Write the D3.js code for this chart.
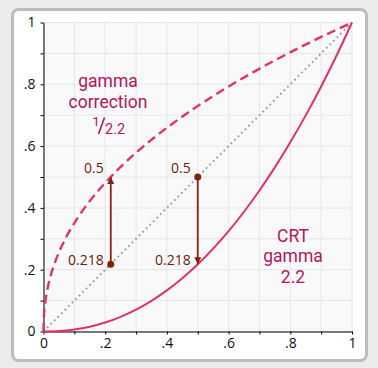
<!DOCTYPE html>
<html>
<head>
<meta charset="utf-8">
<script src="https://cdn.jsdelivr.net/npm/d3@7"></script>
<style>
  body { margin: 0; background: #ececec; }
  svg { display: block; font-family: "Open Sans", sans-serif; }
</style>
</head>
<body>
<div id="chart"></div>
<script>
// CRT response, sampled: input level -> displayed level (gamma 2.2)
const crtX = [0, 0.05, 0.1, 0.15, 0.2, 0.25, 0.3, 0.35, 0.4, 0.45, 0.5, 0.55, 0.6, 0.65, 0.7, 0.75, 0.8, 0.85, 0.9, 0.95, 1];
const crtY = [0, 0.0014, 0.0063, 0.0154, 0.029, 0.0474, 0.0707, 0.0993, 0.1332, 0.1726, 0.2176, 0.2684, 0.325, 0.3876, 0.4563, 0.5311, 0.6121, 0.6994, 0.7931, 0.8933, 1];
// the correction curve is the same samples mirrored about the diagonal
const diagonal = [0, 1];
const tickValues = [0, 0.1, 0.2, 0.3, 0.4, 0.5, 0.6, 0.7, 0.8, 0.9, 1];
const tickLabels = ["0", "", ".2", "", ".4", "", ".6", "", ".8", "", "1"];
// the two arrows: from, to
const arrows = [
  { x: 0.218, from: 0.218, to: 0.5, labelFrom: "0.218", labelTo: "0.5" },
  { x: 0.5, from: 0.5, to: 0.218, labelFrom: "0.5", labelTo: "0.218" }
];

const width = 378, height = 368;
const margin = { top: 22.5, right: 26, bottom: 36.5, left: 43.5 };

const svg = d3.select("#chart").append("svg")
  .attr("width", width)
  .attr("height", height);

// card
svg.append("rect")
  .attr("x", 12.5).attr("y", 9.5)
  .attr("width", 354).attr("height", 351)
  .attr("rx", 6)
  .attr("fill", "#fff")
  .attr("stroke", "#bcbcbc")
  .attr("stroke-width", 3);

const x = d3.scaleLinear().domain([0, 1]).range([margin.left, width - margin.right]);
const y = d3.scaleLinear().domain([0, 1]).range([height - margin.bottom, margin.top]);

svg.append("rect")
  .attr("x", x(0)).attr("y", y(1))
  .attr("width", x(1) - x(0)).attr("height", y(0) - y(1))
  .attr("fill", "#f9f9f9");

// grid
svg.append("g").selectAll("line").data(tickValues).join("line")
  .attr("x1", (d) => x(d)).attr("x2", (d) => x(d))
  .attr("y1", y(0)).attr("y2", y(1))
  .attr("stroke", "#e6e6e6");
svg.append("g").selectAll("line").data(tickValues).join("line")
  .attr("y1", (d) => y(d)).attr("y2", (d) => y(d))
  .attr("x1", x(0)).attr("x2", x(1))
  .attr("stroke", "#e6e6e6");

// axes
const fmt = (d, i) => tickLabels[i];
svg.append("g")
  .attr("transform", `translate(0, ${y(0)})`)
  .call(d3.axisBottom(x).tickValues(tickValues).tickFormat(fmt).tickSize(3).tickPadding(4).tickSizeOuter(0))
  .call((g) => g.selectAll("text").attr("font-size", 14).attr("font-family", "Open Sans").attr("fill", "#111"));
svg.append("g")
  .attr("transform", `translate(${x(0)}, 0)`)
  .call(d3.axisLeft(y).tickValues(tickValues).tickFormat(fmt).tickSize(3).tickPadding(5).tickSizeOuter(0))
  .call((g) => g.selectAll("text").attr("font-size", 14).attr("font-family", "Open Sans").attr("fill", "#111"));

// diagonal
svg.append("line")
  .attr("x1", x(diagonal[0])).attr("y1", y(diagonal[0]))
  .attr("x2", x(diagonal[1])).attr("y2", y(diagonal[1]))
  .attr("stroke", "#999")
  .attr("stroke-width", 1.8)
  .attr("stroke-dasharray", "1.8,3.2");

const pink = "#e2326c";

// CRT curve
svg.append("path")
  .datum(crtX.map((d, i) => [d, crtY[i]]))
  .attr("fill", "none")
  .attr("stroke", pink)
  .attr("stroke-width", 2)
  .attr("d", d3.line().x((d) => x(d[0])).y((d) => y(d[1])).curve(d3.curveMonotoneX));

// gamma correction curve
svg.append("path")
  .datum(crtX.map((d, i) => [crtY[i], d]))
  .attr("fill", "none")
  .attr("stroke", pink)
  .attr("stroke-width", 2.4)
  .attr("stroke-dasharray", "9,5")
  .attr("d", d3.line().x((d) => x(d[0])).y((d) => y(d[1])).curve(d3.curveMonotoneY));

// arrows
const brown = "#86220c";
svg.append("defs").append("marker")
  .attr("id", "head")
  .attr("viewBox", "0 0 10 10")
  .attr("refX", 10).attr("refY", 5)
  .attr("markerWidth", 7).attr("markerHeight", 7)
  .attr("markerUnits", "userSpaceOnUse")
  .attr("orient", "auto")
  .append("path")
  .attr("d", "M0,0L10,5L0,10Z")
  .attr("fill", brown);

const arr = svg.append("g").selectAll("g").data(arrows).join("g");
arr.append("line")
  .attr("x1", (d) => x(d.x)).attr("x2", (d) => x(d.x))
  .attr("y1", (d) => y(d.from)).attr("y2", (d) => y(d.to))
  .attr("stroke", brown)
  .attr("stroke-width", 1.8)
  .attr("marker-end", "url(#head)");
arr.append("circle")
  .attr("cx", (d) => x(d.x)).attr("cy", (d) => y(d.from))
  .attr("r", 3.5)
  .attr("fill", brown);
// "0.5" labels sit above the 0.5 level, "0.218" labels sit on the 0.218 level
const labelY = (v) => (v > 0.4 ? y(v) - 4 : y(v) + 1);
arr.append("text")
  .attr("x", (d) => x(d.x) - 7).attr("y", (d) => labelY(d.from))
  .attr("text-anchor", "end")
  .attr("font-size", 14)
  .attr("fill", "#6e1a0a")
  .text((d) => d.labelFrom);
arr.append("text")
  .attr("x", (d) => x(d.x) - 7).attr("y", (d) => labelY(d.to))
  .attr("text-anchor", "end")
  .attr("font-size", 14)
  .attr("fill", "#6e1a0a")
  .text((d) => d.labelTo);

// curve captions
const captionColor = "#b0175b";
const cap = svg.append("g")
  .attr("font-family", "Roboto")
  .attr("fill", captionColor)
  .attr("text-anchor", "middle");

const cap1 = cap.append("text").attr("font-size", 17.5);
cap1.append("tspan").attr("x", 108).attr("y", 87).text("gamma");
cap1.append("tspan").attr("x", 108).attr("y", 108).text("correction");

// 1/2.2 written as a fraction
cap.append("text").attr("x", 96).attr("y", 126).attr("font-size", 13.5).text("1");
cap.append("line")
  .attr("x1", 98.5).attr("y1", 134)
  .attr("x2", 104.5).attr("y2", 117.5)
  .attr("stroke", captionColor)
  .attr("stroke-width", 1.6);
cap.append("text").attr("x", 105).attr("y", 134).attr("font-size", 14.5)
  .attr("text-anchor", "start").text("2.2");

const cap2 = cap.append("text").attr("font-size", 17.5);
cap2.append("tspan").attr("x", 293).attr("y", 241.5).text("CRT");
cap2.append("tspan").attr("x", 293).attr("y", 262).text("gamma");
cap2.append("tspan").attr("x", 293).attr("y", 282.5).text("2.2");
</script>
</body>
</html>
